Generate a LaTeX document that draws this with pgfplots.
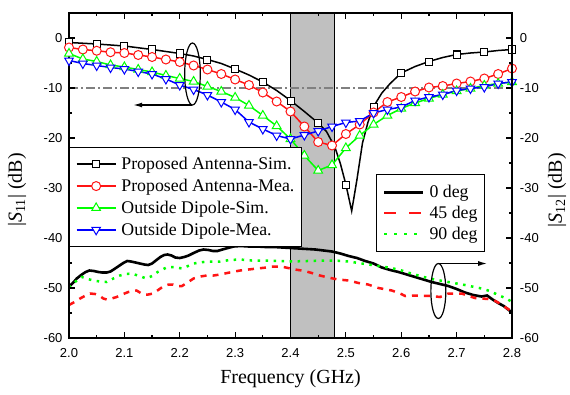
\documentclass[border=0pt]{standalone}
\usepackage{fontspec}
\setmainfont{Liberation Serif}
\setsansfont{Liberation Sans}
\usepackage{pgfplots}
\pgfplotsset{compat=1.18}
\usetikzlibrary{arrows.meta}

\definecolor{bandgray}{RGB}{192,192,192}
\definecolor{sred}{RGB}{255,20,20}
\definecolor{sgreen}{RGB}{0,255,0}
\definecolor{sblue}{RGB}{0,0,255}

\pgfplotsset{
  baseaxis/.style={
    width=443pt, height=325pt, scale only axis,
    xmin=2.0, xmax=2.8, ymin=-60, ymax=5,
    xtick={2.0,2.1,2.2,2.3,2.4,2.5,2.6,2.7,2.8},
    ytick={-60,-50,-40,-30,-20,-10,0},
    minor x tick num=1, minor y tick num=1,
    tick align=inside,
    major tick length=6pt, minor tick length=3pt,
    every tick/.style={black, line width=1.2pt},
    axis line style={line width=1.5pt},
    tick label style={font=\sffamily\fontsize{13}{13}\selectfont,
      /pgf/number format/assume math mode=true},
    xticklabel style={/pgf/number format/fixed,
      /pgf/number format/fixed zerofill, /pgf/number format/precision=1,
      yshift=-7pt},
    label style={font=\fontsize{20}{20}\selectfont},
    legend cell align=left,
    legend image code/.code={
      \draw[#1, mark indices={2}] plot coordinates {(0pt,0pt) (19.5pt,0pt) (39pt,0pt)};
    },
  },
  s11/.style={line width=1.5pt, mark options={solid, fill=white, line width=1pt}},
}

\begin{document}
\begin{tikzpicture}
\begin{axis}[baseaxis,
  axis on top, clip=false,
  yticklabel style={xshift=-3pt},
  xlabel={Frequency (GHz)},
  xlabel style={at={(axis description cs:0.5,-0.1385)}, anchor=base},
  ylabel={|\textit{S}\textsubscript{11}| (dB)},
  ylabel style={at={(axis description cs:-0.117,0.455)}, anchor=center},
  legend style={at={(rel axis cs:0,0.588)}, anchor=north west,
    draw=black, line width=0.8pt, fill=white,
    font=\fontsize{17.8}{17.8}\selectfont,
    inner xsep=6.5pt, inner ysep=10pt, row sep=8pt,
    nodes={inner sep=0pt},
    /tikz/every odd column/.append style={column sep=5pt}},
]
% 2.4--2.48 GHz band
\fill[bandgray] (axis cs:2.4,-60) rectangle (axis cs:2.48,5);
\draw[black, line width=0.8pt] (axis cs:2.4,-60) -- (axis cs:2.4,5);
\draw[black, line width=0.8pt] (axis cs:2.48,-60) -- (axis cs:2.48,5);
% -10 dB reference
\draw[gray, line width=1.2pt, dash pattern=on 9pt off 3pt on 2pt off 3pt]
  (axis cs:2.0,-10) -- (axis cs:2.8,-10);

% |S12| measurements
\addplot[black, line width=2.6pt, forget plot] coordinates {
(2.000,-49.7) (2.007,-49.0) (2.014,-48.1) (2.022,-47.4) (2.030,-46.8)
(2.037,-46.5) (2.045,-46.6) (2.053,-46.8) (2.060,-46.9) (2.068,-46.9)
(2.075,-46.7) (2.082,-46.2) (2.090,-45.6) (2.098,-45.0) (2.105,-44.6)
(2.112,-44.7) (2.120,-44.9) (2.128,-45.1) (2.136,-45.3) (2.143,-45.4)
(2.150,-45.1) (2.158,-44.4) (2.165,-43.8) (2.172,-43.4) (2.178,-43.3)
(2.185,-43.5) (2.192,-43.9) (2.200,-44.0) (2.208,-43.8) (2.216,-43.5)
(2.225,-43.0) (2.235,-42.5) (2.243,-42.3) (2.252,-42.4) (2.260,-42.6)
(2.268,-42.6) (2.277,-42.3) (2.287,-42.0) (2.297,-41.7) (2.310,-41.6)
(2.325,-41.7) (2.340,-41.7) (2.355,-41.8) (2.370,-41.8) (2.385,-41.9)
(2.400,-42.0) (2.415,-42.1) (2.430,-42.2) (2.445,-42.3) (2.460,-42.5)
(2.475,-42.7) (2.490,-43.1) (2.505,-43.6) (2.520,-44.0) (2.535,-44.6)
(2.550,-45.1) (2.565,-45.9) (2.580,-46.4) (2.595,-46.8) (2.610,-47.3)
(2.625,-47.8) (2.640,-48.3) (2.655,-48.8) (2.670,-49.2) (2.685,-49.6)
(2.700,-50.2) (2.715,-50.9) (2.730,-51.4) (2.745,-51.7) (2.755,-51.5)
(2.765,-52.3) (2.775,-53.0) (2.785,-53.6) (2.793,-54.3) (2.800,-54.9)
};
\addplot[sred, line width=2.5pt, dash pattern=on 6pt off 6pt, forget plot] coordinates {
(2.000,-53.4) (2.010,-52.8) (2.020,-52.1) (2.030,-51.5) (2.038,-51.1)
(2.047,-51.2) (2.056,-51.6) (2.062,-52.1) (2.068,-52.3) (2.077,-52.1)
(2.086,-51.8) (2.096,-51.3) (2.107,-50.8) (2.115,-50.6) (2.122,-50.5)
(2.128,-50.9) (2.134,-51.3) (2.143,-51.3) (2.152,-51.1) (2.161,-50.4)
(2.170,-49.7) (2.180,-49.3) (2.188,-49.3) (2.196,-49.6) (2.204,-49.6)
(2.214,-48.9) (2.225,-48.1) (2.237,-47.7) (2.249,-47.5) (2.261,-47.5)
(2.273,-47.3) (2.290,-46.9) (2.309,-46.5) (2.324,-46.3) (2.340,-46.1)
(2.357,-45.9) (2.370,-45.7) (2.387,-45.8) (2.400,-46.1) (2.408,-46.3)
(2.420,-46.5) (2.432,-46.8) (2.445,-47.2) (2.453,-47.5) (2.468,-47.9)
(2.486,-48.3) (2.505,-48.5) (2.523,-49.0) (2.540,-49.3) (2.559,-50.0)
(2.583,-50.5) (2.600,-51.2) (2.607,-51.6) (2.625,-51.5) (2.655,-51.6)
(2.670,-51.8) (2.677,-51.5) (2.685,-51.1) (2.709,-51.1) (2.733,-52.0)
(2.757,-52.2) (2.770,-52.6) (2.781,-53.3) (2.790,-54.0) (2.800,-54.7)
};
\addplot[sgreen, line width=2.5pt, dash pattern=on 2.5pt off 5.5pt, forget plot] coordinates {
(2.000,-49.9) (2.012,-48.7) (2.023,-47.8) (2.034,-48.2) (2.044,-48.5)
(2.056,-48.7) (2.068,-48.8) (2.080,-48.1) (2.092,-47.5) (2.103,-47.2)
(2.113,-47.1) (2.127,-47.6) (2.140,-48.1) (2.150,-47.6) (2.160,-46.8)
(2.176,-45.9) (2.190,-45.8) (2.204,-46.1) (2.215,-45.6) (2.225,-45.1)
(2.249,-44.7) (2.273,-44.7) (2.290,-44.4) (2.309,-44.3) (2.330,-44.5)
(2.357,-44.5) (2.380,-44.6) (2.400,-44.7) (2.430,-44.6) (2.460,-44.5)
(2.480,-44.5) (2.505,-44.7) (2.529,-45.1) (2.547,-45.4) (2.571,-45.8)
(2.595,-46.3) (2.615,-47.0) (2.637,-47.7) (2.660,-48.3) (2.685,-48.8)
(2.715,-49.4) (2.745,-50.1) (2.760,-50.6) (2.775,-51.4) (2.790,-52.1)
(2.800,-52.8)
};

% |S11| curves
\addplot[s11, black, mark=square*, mark size=3.5pt,
  mark indices={1,2,3,4,5,7,9,11,13,15,19,24,27,29,31,33,35}] coordinates {
(2.000,-0.9) (2.050,-1.2) (2.100,-1.6) (2.150,-2.3) (2.200,-3.1)
(2.225,-3.6) (2.250,-4.3) (2.275,-5.1) (2.300,-6.2) (2.325,-7.4)
(2.350,-8.8) (2.375,-10.5) (2.400,-12.5) (2.425,-14.7) (2.450,-17.0)
(2.465,-18.7) (2.480,-21.8) (2.490,-25.1) (2.500,-29.3) (2.5105,-34.6)
(2.520,-28.3) (2.530,-21.0) (2.540,-16.8) (2.550,-13.7) (2.565,-11.0)
(2.580,-9.1) (2.600,-7.0) (2.625,-5.7) (2.650,-4.7) (2.675,-3.9)
(2.700,-3.3) (2.725,-3.0) (2.750,-2.8) (2.775,-2.5) (2.800,-2.3)
};
\addlegendentry{Proposed Antenna-Sim.}
\addplot[s11, sred, mark=*, mark size=4.5pt] coordinates {
(2.000,-1.9) (2.025,-2.3) (2.050,-2.55) (2.075,-2.85) (2.100,-3.0)
(2.125,-3.4) (2.150,-3.8) (2.175,-4.3) (2.200,-4.8) (2.225,-5.5)
(2.250,-6.3) (2.275,-7.2) (2.300,-8.3) (2.325,-9.4) (2.350,-10.9)
(2.375,-12.7) (2.400,-14.7) (2.425,-17.7) (2.450,-20.8) (2.475,-21.5)
(2.500,-19.2) (2.525,-17.3) (2.550,-14.9) (2.575,-12.8) (2.600,-11.8)
(2.625,-10.7) (2.650,-9.9) (2.675,-9.6) (2.700,-9.1) (2.725,-8.7)
(2.750,-8.1) (2.775,-7.2) (2.800,-6.1)
};
\addlegendentry{Proposed Antenna-Mea.}
\addplot[s11, sgreen, mark=triangle*, mark size=5pt] coordinates {
(2.000,-3.1) (2.025,-4.2) (2.050,-4.7) (2.075,-5.4) (2.100,-5.8)
(2.125,-6.3) (2.150,-6.8) (2.175,-7.5) (2.200,-8.1) (2.225,-8.7)
(2.250,-9.7) (2.275,-10.7) (2.300,-11.9) (2.325,-13.5) (2.350,-15.5)
(2.375,-17.6) (2.400,-20.2) (2.425,-23.5) (2.450,-26.5) (2.475,-25.4)
(2.500,-22.0) (2.525,-19.5) (2.550,-17.3) (2.575,-15.5) (2.600,-14.1)
(2.625,-13.0) (2.650,-12.1) (2.675,-11.3) (2.700,-10.6) (2.725,-10.1)
(2.750,-9.5) (2.775,-9.1) (2.800,-8.8)
};
\addlegendentry{Outside Dipole-Sim.}
\addplot[s11, sblue, mark=triangle*, mark size=5pt,
  mark options={solid, fill=white, line width=1pt, rotate=180}] coordinates {
(2.000,-4.5) (2.025,-5.1) (2.050,-5.5) (2.075,-5.9) (2.100,-6.2)
(2.125,-6.7) (2.150,-7.2) (2.175,-8.2) (2.200,-9.4) (2.225,-10.3)
(2.250,-11.4) (2.275,-12.8) (2.300,-14.3) (2.325,-16.8) (2.350,-18.2)
(2.375,-19.5) (2.400,-20.2) (2.425,-19.4) (2.450,-18.6) (2.475,-17.7)
(2.500,-16.9) (2.525,-16.6) (2.550,-15.0) (2.575,-14.3) (2.600,-13.8)
(2.625,-12.5) (2.650,-11.8) (2.675,-11.3) (2.700,-10.5) (2.725,-10.1)
(2.750,-9.8) (2.775,-9.1) (2.800,-8.8)
};
\addlegendentry{Outside Dipole-Mea.}

% curve-group markers with arrows to their axes
\draw[black, line width=1.2pt] (axis cs:2.223,-7.2) ellipse [x radius=7.8pt, y radius=31pt];
\draw[black, line width=1.2pt, -{Latex[length=9pt,width=5pt]}]
  (axis cs:2.223,-13.4) -- (axis cs:2.116,-13.4);
\draw[black, line width=1.2pt] (axis cs:2.667,-50.6) ellipse [x radius=7.5pt, y radius=27.5pt];
\draw[black, line width=1.2pt, -{Latex[length=9pt,width=5pt]}]
  (axis cs:2.667,-45.1) -- (axis cs:2.755,-45.1);
\end{axis}

\begin{axis}[baseaxis,
  axis y line*=right, axis x line=none,
  yticklabel style={xshift=4.4pt},
  ylabel={|\textit{S}\textsubscript{12}| (dB)},
  ylabel style={at={(axis description cs:1.102,0.455)}, anchor=center},
  legend style={at={(rel axis cs:0.692,0.505)}, anchor=north west,
    draw=black, line width=0.8pt, fill=white,
    font=\fontsize{17.8}{17.8}\selectfont,
    inner xsep=7pt, inner ysep=11pt, row sep=7pt,
    nodes={inner sep=0pt},
    /tikz/every odd column/.append style={column sep=5pt}},
  legend image code/.code={\draw[#1] (0pt,0pt) -- (39pt,0pt);},
]
\addlegendimage{black, line width=2.6pt}
\addlegendentry{0 deg}
\addlegendimage{sred, line width=2.5pt, dash pattern=on 12pt off 13pt}
\addlegendentry{45 deg}
\addlegendimage{sgreen, line width=2.5pt, dash pattern=on 2.5pt off 7.5pt}
\addlegendentry{90 deg}
\end{axis}

\pgfresetboundingbox
\path[use as bounding box] ([shift={(-69pt,-56pt)}]current axis.south west)
  rectangle ([shift={(58pt,13pt)}]current axis.north east);
\end{tikzpicture}
\end{document}
